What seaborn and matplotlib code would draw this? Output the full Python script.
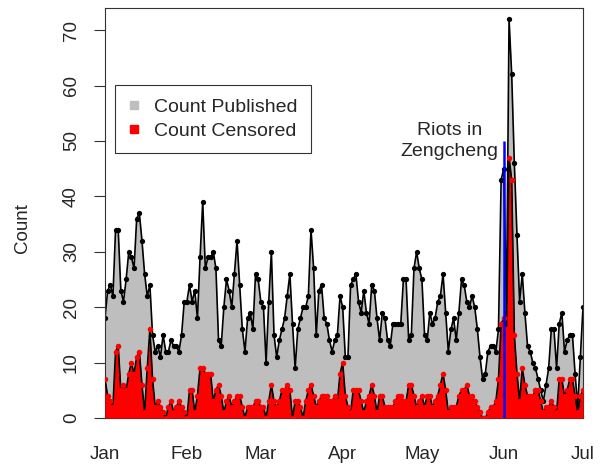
import pandas as pd
import matplotlib
matplotlib.use("Agg")
import matplotlib.pyplot as plt
from matplotlib.lines import Line2D
import seaborn as sns

# daily counts, 1 Jan 2011 .. 1 Jul 2011
published = [18, 23, 24, 22, 34, 34, 23, 21, 25, 30, 29, 27, 36, 37, 32, 26, 22, 24, 15, 12,
             13, 11, 15, 12, 12, 14, 13, 13, 12,
             15, 21, 21, 24, 21, 23, 18, 29, 39, 27, 29, 29, 30, 27, 14, 13, 20, 25, 23, 20,
             26, 32, 24, 16, 12, 18, 19, 16, 26, 25, 21, 20,
             10, 21, 30, 15, 11, 14, 16, 18, 22, 26, 17, 9, 16, 18, 20, 20, 22, 34, 27, 15,
             23, 24, 18, 17, 14, 12, 14, 15,
             22, 20, 11, 11, 24, 25, 26, 21, 19, 23, 19, 17, 24, 23, 18, 14, 19, 18, 14, 13,
             17, 17, 17, 17, 25, 25, 14, 15, 27, 30, 27, 25, 15,
             14, 19, 17, 18, 21, 22, 26, 19, 12, 16, 18, 14, 19, 25, 24, 21, 20, 22, 20, 16,
             11, 7, 8, 12, 13, 13, 12, 16,
             43, 45, 19, 72, 62, 46, 33, 21, 26, 19, 13, 12, 10, 9, 7, 5, 3, 6, 9, 16,
             16, 9, 17, 19, 12, 14, 15, 15, 8, 2, 11, 20]
censored = [7, 4, 3, 2, 12, 13, 5, 6, 5, 8, 10, 8, 11, 12, 6, 1, 9, 16, 7, 2,
            3, 2, 1, 0, 2, 3, 1, 2, 3,
            2, 1, 0, 5, 5, 1, 4, 9, 9, 8, 8, 8, 3, 5, 6, 4, 1, 3, 4, 2,
            3, 4, 4, 2, 0, 2, 2, 2, 3, 3, 2, 2,
            0, 3, 6, 3, 2, 3, 5, 5, 6, 5, 0, 3, 3, 2, 0, 3, 5, 6, 4, 2,
            3, 4, 4, 4, 3, 3, 4, 3,
            8, 10, 4, 2, 1, 5, 5, 5, 3, 1, 3, 4, 6, 4, 1, 4, 4, 2, 2, 2,
            2, 3, 4, 4, 3, 3, 6, 6, 4, 2, 3, 4, 2,
            4, 4, 2, 3, 4, 6, 8, 5, 1, 2, 2, 2, 4, 5, 5, 6, 4, 4, 3, 2,
            1, 0, 0, 1, 2, 2, 3, 7,
            17, 18, 16, 47, 43, 15, 8, 3, 9, 6, 4, 4, 4, 5, 5, 3, 1, 2, 2, 3,
            2, 1, 7, 7, 4, 5, 7, 7, 4, 1, 4, 5]
start_date = "2011-01-01"
riot_date = "2011-06-01"
riot_height = 50
riot_label = "Riots in\nZengcheng"
month_ticks = pd.date_range("2011-01-01", "2011-07-01", freq="MS")
month_labels = ["Jan", "Feb", "Mar", "Apr", "May", "Jun", "Jul"]
y_ticks = [0, 10, 20, 30, 40, 50, 60, 70]

df = pd.DataFrame({"date": pd.date_range(start_date, periods=len(published), freq="D"),
                   "published": published, "censored": censored})

sns.set_theme(style="white")
plt.rcParams["font.family"] = ["Liberation Sans", "DejaVu Sans"]

fig = plt.figure(figsize=(6.09, 4.70), dpi=100)
ax = fig.add_axes([105 / 609, 1 - 418 / 470, 478 / 609, 410 / 470])

# published: grey area, black line, black dots
ax.fill_between(df.date, 0, df.published, color="#BEBEBE", lw=0, zorder=1)
sns.lineplot(data=df, x="date", y="published", color="black", lw=1.2, marker="o",
             markersize=3.8, markeredgewidth=0, ax=ax, zorder=2)

# censored: red area, black line, red dots
ax.fill_between(df.date, 0, df.censored, color="red", lw=0, zorder=3)
sns.lineplot(data=df, x="date", y="censored", color="black", lw=1.2, ax=ax, zorder=4)
sns.scatterplot(data=df, x="date", y="censored", color="red", s=16, linewidth=0, ax=ax, zorder=5)

# riot marker
ax.vlines(pd.Timestamp(riot_date), 0, riot_height, color="blue", lw=1.8, zorder=6)
ax.text(0.72, 0.676, riot_label, transform=ax.transAxes, ha="center", va="center",
        fontsize=14, linespacing=1.3)

ax.set_xlim(month_ticks[0], month_ticks[-1])
ax.set_ylim(0, 74)
ax.set_xticks(month_ticks)
ax.set_xticklabels(month_labels)
ax.set_yticks(y_ticks)
ax.set_yticklabels([str(v) for v in y_ticks], rotation=90, va="center")
ax.tick_params(axis="x", length=0, pad=20, labelsize=13.5)
ax.tick_params(axis="y", left=True, length=8, width=0.8, pad=10, labelsize=13.5, color="#333333")
ax.set_xlabel("")
ax.set_ylabel("")
for s in ax.spines.values():
    s.set_color("#333333")
    s.set_linewidth(0.8)

fig.text(22 / 609, 1 - 228 / 470, "Count", rotation=90, ha="center", va="center", fontsize=13.5)

handles = [Line2D([], [], ls="", marker="s", markersize=6, color="#BEBEBE"),
           Line2D([], [], ls="", marker="s", markersize=6, color="red")]
leg = ax.legend(handles, ["Count Published", "Count Censored"], loc="upper left",
                bbox_to_anchor=(0.021, 0.812), fontsize=14, frameon=True, fancybox=False,
                framealpha=1, edgecolor="#333333", borderpad=0.7, labelspacing=0.3,
                handlelength=0.6, handletextpad=0.69, borderaxespad=0)
leg.get_frame().set_linewidth(0.8)
leg.set_zorder(10)

fig.savefig("out.png", dpi=100)
